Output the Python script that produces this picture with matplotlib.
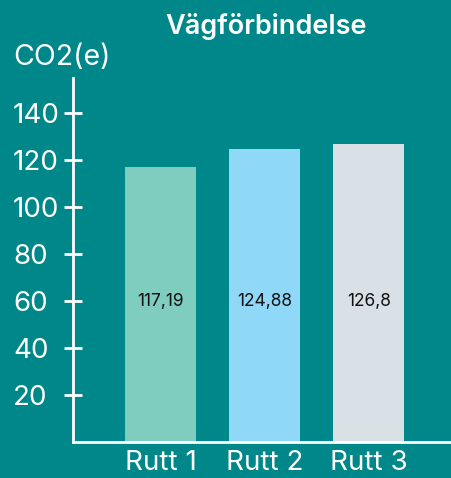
import numpy as np
import matplotlib.pyplot as plt

routes = ["Rutt 1", "Rutt 2", "Rutt 3"]
co2 = [117.19, 124.88, 126.8]
value_labels = ["117,19", "124,88", "126,8"]
bar_colors = ["#7fcdbf", "#8fd8f7", "#d9e0e6"]
yticks = [20, 40, 60, 80, 100, 120, 140]

bg = "#00878a"
plt.rcParams['font.family'] = ['Inter', 'DejaVu Sans']

W, H = 452, 478
fig = plt.figure(figsize=(W / 100, H / 100), dpi=100, facecolor=bg)
ax = fig.add_axes([73 / W, (H - 442) / H, 1 - 73 / W, (442 - 78) / H])
ax.set_facecolor(bg)

x = np.arange(len(routes))
ax.bar(x, co2, width=0.68, color=bar_colors, zorder=2)
for xi, lab in zip(x, value_labels):
    ax.text(xi, 60, lab, ha="center", va="center", fontsize=12.5,
            color="#111111")

ax.set_xlim(-0.84, 2.80)
ax.set_ylim(0, 155)

for s in ["top", "right"]:
    ax.spines[s].set_visible(False)
for s in ["left", "bottom"]:
    ax.spines[s].set_color("white")
    ax.spines[s].set_linewidth(2)

ax.set_yticks(yticks)
ax.set_yticklabels([str(v) for v in yticks], ha="left")
ax.tick_params(axis="y", direction="inout", length=13, width=2, color="white",
               labelcolor="white", labelsize=20, pad=36.7)
ax.set_xticks(x)
ax.set_xticklabels(routes)
ax.tick_params(axis="x", length=0, labelcolor="white", labelsize=20, pad=6)

fig.text(266 / W, 1 - 26 / H, "Vägförbindelse", ha="center", va="center",
         color="white", fontsize=19.5, fontweight="semibold")
fig.text(13 / W, 1 - 57 / H, "CO2(e)", ha="left", va="center",
         color="white", fontsize=20.5)

fig.savefig("out.png", dpi=100, facecolor=bg)
